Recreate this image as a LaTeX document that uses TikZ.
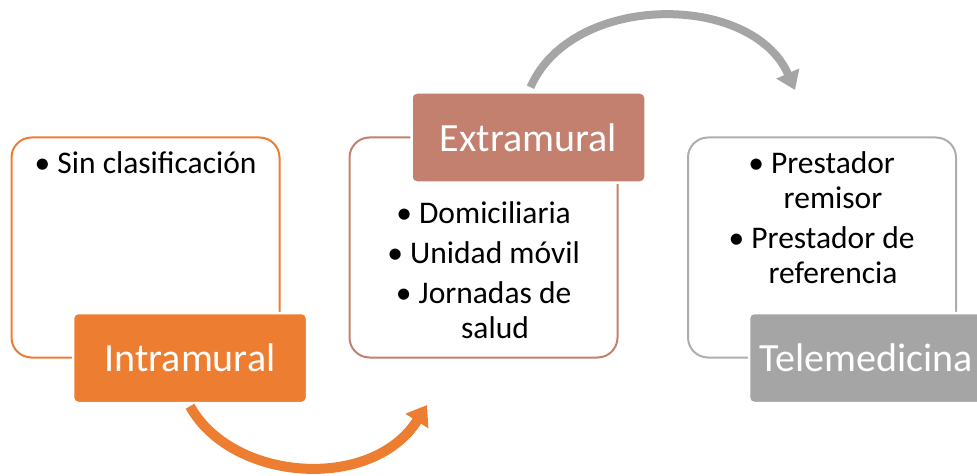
\documentclass[tikz,border=0pt]{standalone}
\usepackage{fontspec}
\setmainfont{Carlito}
\usetikzlibrary{arrows.meta}
\definecolor{orng}{HTML}{ED7D31}
\definecolor{rose}{HTML}{C4806F}
\definecolor{gry}{HTML}{A5A5A5}
\definecolor{gryline}{HTML}{ADADAD}
\begin{document}
\begin{tikzpicture}[x=1pt,y=-1pt,
  outer/.style={draw=#1, line width=2pt, rounded corners=20pt, fill=white,
    minimum width=268pt, minimum height=220pt, inner sep=0pt},
  tag/.style={fill=#1, draw=white, line width=2.5pt, rounded corners=5pt,
    text=white, font=\fontsize{40}{48}\selectfont,
    minimum width=234pt, minimum height=90pt, inner sep=0pt},
  body/.style={align=center, anchor=base, inner sep=0pt,
    font=\fontsize{31.5}{35}\selectfont},
  flow/.style={line width=#1, line cap=butt}
]
\useasboundingbox (0,0) rectangle (977,476);

% outline boxes
\node[outer=orng]    (b1) at (145.5,247.5) {};
\node[outer=rose]    (b2) at (483.5,247.5) {};
\node[outer=gryline] (b3) at (822,247.5) {};

% bullet texts (base anchor = baseline of the last line)
\node[body] (t1) at (157,173) {\llap{•\ }Sin clasificación};
\node[body] (t2) at (495,338) {\llap{•\ }Domiciliaria\\[5pt]\llap{•\ }Unidad móvil\\[5pt]\llap{•\ }Jornadas de\\salud};
\node[body] (t3) at (833,283) {\llap{•\ }Prestador\\remisor\\[5pt]\llap{•\ }Prestador de\\referencia};

% filled title boxes
\node[tag=orng] (l1) at (190,358) {Intramural};
\node[tag=rose] (l2) at (528.5,137.5) {Extramural};
\node[tag=gry]  (l3) at (866,358) {Telemedicina};

% curved arrows
\coordinate (e1) at (427,405);
\coordinate (e2) at (795,90);
\draw[flow=10pt, orng, -{Triangle[length=19pt,width=26pt]}]
  ([yshift=-2pt]l1.south) .. controls (232,482) and (372,492) .. (e1);
\draw[flow=8pt, gry, -{Triangle[length=18pt,width=24pt]}]
  ([xshift=2pt,yshift=4pt]l2.north) .. controls (572,-8) and (752,-8) .. (e2);
\end{tikzpicture}
\end{document}
